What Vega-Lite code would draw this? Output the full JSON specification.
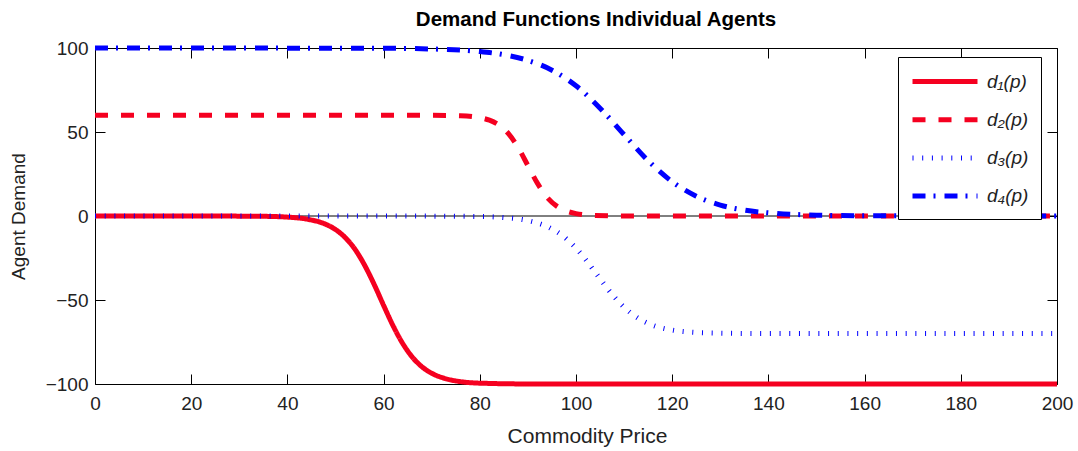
{
  "$schema": "https://vega.github.io/schema/vega-lite/v6.json",
  "width": 962,
  "height": 336,
  "autosize": {"type": "none"},
  "padding": {"left": 95, "top": 48, "right": 21, "bottom": 67},
  "background": "white",
  "title": {
    "text": "Demand Functions Individual Agents",
    "font": "Liberation Sans",
    "fontSize": 20.5,
    "fontWeight": "bold",
    "color": "black",
    "anchor": "middle",
    "dx": 20,
    "offset": 8
  },
  "config": {
    "view": {"stroke": "black", "strokeWidth": 1},
    "axis": {
      "grid": false,
      "domain": false,
      "tickColor": "black",
      "tickSize": 10,
      "offset": -10,
      "labelFont": "Liberation Sans",
      "labelFontSize": 19,
      "labelColor": "#222222",
      "titleFont": "Liberation Sans",
      "titleFontWeight": "normal",
      "titleColor": "#222222"
    }
  },
  "datasets": {
    "curves": [
      {"p": 0, "d": 0, "series": "d₁(p)"},
      {"p": 20, "d": 0, "series": "d₁(p)"},
      {"p": 35, "d": -0.19, "series": "d₁(p)"},
      {"p": 40, "d": -0.67, "series": "d₁(p)"},
      {"p": 44, "d": -1.84, "series": "d₁(p)"},
      {"p": 48, "d": -4.97, "series": "d₁(p)"},
      {"p": 50, "d": -8.05, "series": "d₁(p)"},
      {"p": 52, "d": -12.8, "series": "d₁(p)"},
      {"p": 54, "d": -19.6, "series": "d₁(p)"},
      {"p": 56, "d": -29.0, "series": "d₁(p)"},
      {"p": 58, "d": -40.5, "series": "d₁(p)"},
      {"p": 60, "d": -53.2, "series": "d₁(p)"},
      {"p": 62, "d": -65.5, "series": "d₁(p)"},
      {"p": 64, "d": -76.0, "series": "d₁(p)"},
      {"p": 66, "d": -84.1, "series": "d₁(p)"},
      {"p": 68, "d": -89.8, "series": "d₁(p)"},
      {"p": 70, "d": -93.6, "series": "d₁(p)"},
      {"p": 73, "d": -96.9, "series": "d₁(p)"},
      {"p": 76, "d": -98.6, "series": "d₁(p)"},
      {"p": 80, "d": -99.5, "series": "d₁(p)"},
      {"p": 90, "d": -99.96, "series": "d₁(p)"},
      {"p": 200, "d": -100, "series": "d₁(p)"},

      {"p": 0, "d": 60, "series": "d₂(p)"},
      {"p": 40, "d": 60, "series": "d₂(p)"},
      {"p": 70, "d": 59.9, "series": "d₂(p)"},
      {"p": 76, "d": 59.67, "series": "d₂(p)"},
      {"p": 80, "d": 58.55, "series": "d₂(p)"},
      {"p": 82, "d": 57.04, "series": "d₂(p)"},
      {"p": 84, "d": 54.15, "series": "d₂(p)"},
      {"p": 86, "d": 48.9, "series": "d₂(p)"},
      {"p": 88, "d": 40.6, "series": "d₂(p)"},
      {"p": 90, "d": 30, "series": "d₂(p)"},
      {"p": 92, "d": 19.4, "series": "d₂(p)"},
      {"p": 94, "d": 11.1, "series": "d₂(p)"},
      {"p": 96, "d": 5.87, "series": "d₂(p)"},
      {"p": 98, "d": 2.96, "series": "d₂(p)"},
      {"p": 100, "d": 1.44, "series": "d₂(p)"},
      {"p": 104, "d": 0.33, "series": "d₂(p)"},
      {"p": 110, "d": 0.03, "series": "d₂(p)"},
      {"p": 200, "d": 0, "series": "d₂(p)"},

      {"p": 0, "d": 0, "series": "d₃(p)"},
      {"p": 60, "d": 0, "series": "d₃(p)"},
      {"p": 80, "d": -0.31, "series": "d₃(p)"},
      {"p": 85, "d": -0.93, "series": "d₃(p)"},
      {"p": 90, "d": -2.74, "series": "d₃(p)"},
      {"p": 94, "d": -6.3, "series": "d₃(p)"},
      {"p": 97, "d": -11.3, "series": "d₃(p)"},
      {"p": 100, "d": -19.1, "series": "d₃(p)"},
      {"p": 102, "d": -25.9, "series": "d₃(p)"},
      {"p": 104, "d": -33.5, "series": "d₃(p)"},
      {"p": 106, "d": -41.2, "series": "d₃(p)"},
      {"p": 108, "d": -48.3, "series": "d₃(p)"},
      {"p": 110, "d": -54.3, "series": "d₃(p)"},
      {"p": 113, "d": -61.0, "series": "d₃(p)"},
      {"p": 116, "d": -65.1, "series": "d₃(p)"},
      {"p": 120, "d": -67.9, "series": "d₃(p)"},
      {"p": 125, "d": -69.3, "series": "d₃(p)"},
      {"p": 130, "d": -69.76, "series": "d₃(p)"},
      {"p": 140, "d": -69.97, "series": "d₃(p)"},
      {"p": 200, "d": -70, "series": "d₃(p)"},

      {"p": 0, "d": 100, "series": "d₄(p)"},
      {"p": 60, "d": 99.84, "series": "d₄(p)"},
      {"p": 70, "d": 99.41, "series": "d₄(p)"},
      {"p": 80, "d": 97.9, "series": "d₄(p)"},
      {"p": 85, "d": 96.0, "series": "d₄(p)"},
      {"p": 90, "d": 92.6, "series": "d₄(p)"},
      {"p": 95, "d": 86.8, "series": "d₄(p)"},
      {"p": 100, "d": 77.5, "series": "d₄(p)"},
      {"p": 105, "d": 64.2, "series": "d₄(p)"},
      {"p": 110, "d": 48.4, "series": "d₄(p)"},
      {"p": 115, "d": 32.9, "series": "d₄(p)"},
      {"p": 120, "d": 20.4, "series": "d₄(p)"},
      {"p": 125, "d": 11.8, "series": "d₄(p)"},
      {"p": 130, "d": 6.5, "series": "d₄(p)"},
      {"p": 135, "d": 3.5, "series": "d₄(p)"},
      {"p": 140, "d": 1.87, "series": "d₄(p)"},
      {"p": 150, "d": 0.52, "series": "d₄(p)"},
      {"p": 160, "d": 0.14, "series": "d₄(p)"},
      {"p": 200, "d": 0, "series": "d₄(p)"}
    ],
    "zero": [
      {"p": 0, "z": 0},
      {"p": 200, "z": 0}
    ]
  },
  "layer": [
    {
      "data": {"name": "zero"},
      "mark": {"type": "line", "color": "black", "strokeWidth": 1},
      "encoding": {
        "x": {"field": "p", "type": "quantitative", "scale": {"domain": [0, 200], "nice": false},
              "axis": {"orient": "top", "labels": false, "title": null, "values": [0, 20, 40, 60, 80, 100, 120, 140, 160, 180, 200]}},
        "y": {"field": "z", "type": "quantitative", "scale": {"domain": [-100, 100], "nice": false},
              "axis": {"orient": "right", "labels": false, "title": null, "values": [-100, -50, 0, 50, 100]}}
      }
    },
    {
      "data": {"name": "curves"},
      "mark": {"type": "line", "interpolate": "monotone"},
      "encoding": {
        "x": {"field": "p", "type": "quantitative",
              "axis": {"orient": "bottom", "title": "Commodity Price", "titleFontSize": 21, "titleX": 492, "labelPadding": 10, "titlePadding": 12,
                       "values": [0, 20, 40, 60, 80, 100, 120, 140, 160, 180, 200], "labelFlush": false}},
        "y": {"field": "d", "type": "quantitative",
              "axis": {"orient": "left", "title": "Agent Demand", "titleFontSize": 19, "labelPadding": 7, "titlePadding": 17,
                       "values": [-100, -50, 0, 50, 100], "labelFlush": false}},
        "detail": {"field": "series"},
        "color": {
          "field": "series", "type": "nominal",
          "scale": {"domain": ["d₁(p)", "d₂(p)", "d₃(p)", "d₄(p)"], "range": ["#f50020", "#f50020", "#0000ff", "#0000ff"]},
          "legend": {
            "title": null,
            "orient": "none",
            "legendX": 803,
            "legendY": 9,
            "strokeColor": "black",
            "fillColor": "white",
            "padding": 12,
            "symbolType": "M-1,0H5.5",
            "symbolSize": 400,
            "labelFont": "Liberation Sans",
            "labelFontSize": 19,
            "labelFontStyle": "italic",
            "labelColor": "#222222",
            "labelOffset": 52,
            "rowPadding": 15.2,
            "cornerRadius": 0
          }
        },
        "strokeDash": {
          "field": "series", "type": "nominal",
          "scale": {"domain": ["d₁(p)", "d₂(p)", "d₃(p)", "d₄(p)"], "range": [[1, 0], [13, 13], [1, 8.7], [13, 8, 2, 9]]},
          "legend": null
        },
        "strokeWidth": {
          "field": "series", "type": "nominal",
          "scale": {"domain": ["d₁(p)", "d₂(p)", "d₃(p)", "d₄(p)"], "range": [5, 5, 4, 5]},
          "legend": null
        }
      }
    }
  ],
  "resolve": {"axis": {"x": "independent", "y": "independent"}}
}
